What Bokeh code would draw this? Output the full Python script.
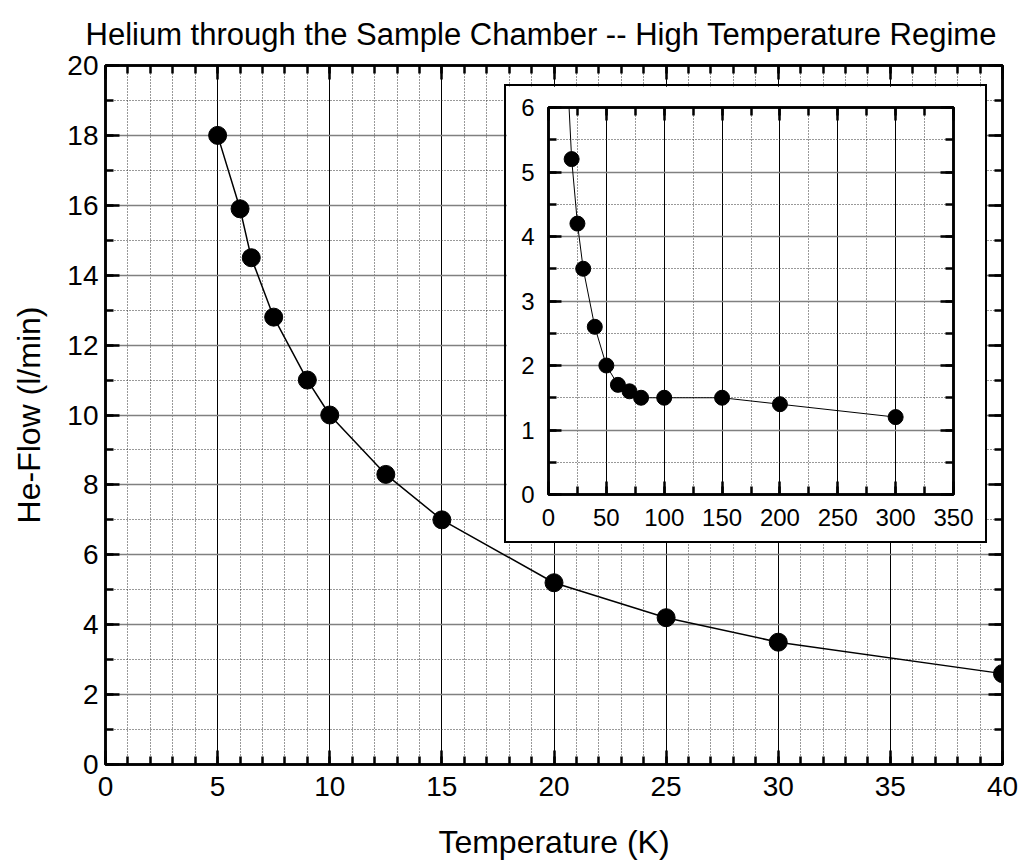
from bokeh.plotting import figure
from bokeh.layouts import column
from bokeh.models import SingleIntervalTicker, LinearAxis, Range1d
from bokeh.embed import file_html
from bokeh.resources import INLINE

# He flow through the sample chamber vs. temperature
temp_low = [5, 6, 6.5, 7.5, 9, 10, 12.5, 15, 20, 25, 30, 40]
flow_low = [18.0, 15.9, 14.5, 12.8, 11.0, 10.0, 8.3, 7.0, 5.2, 4.2, 3.5, 2.6]

temp_high = [50, 60, 70, 80, 100, 150, 200, 300]
flow_high = [2.0, 1.7, 1.6, 1.5, 1.5, 1.5, 1.4, 1.2]

temp_all = temp_low + temp_high
flow_all = flow_low + flow_high

FONT = "Liberation Sans"


def tick_style(ax, major_len, minor_len):
    ax.axis_line_width = 2.5
    ax.major_tick_line_width = 2.5
    ax.minor_tick_line_width = 2.5
    ax.major_tick_in = major_len
    ax.major_tick_out = 0
    ax.minor_tick_in = minor_len
    ax.minor_tick_out = 0


def style_axes(p, xtick, ytick, label_size, major_len, minor_len, standoff_x, standoff_y):
    xax, yax = p.xaxis[0], p.yaxis[0]
    for ax, tk, so in ((xax, xtick, standoff_x), (yax, ytick, standoff_y)):
        ax.ticker = tk
        tick_style(ax, major_len, minor_len)
        ax.major_label_text_font = FONT
        ax.major_label_text_font_size = label_size
        ax.major_label_text_color = "black"
        ax.major_label_standoff = so
        ax.axis_label_text_font = FONT
        ax.axis_label_text_font_style = "normal"
        ax.axis_label_text_color = "black"
    # mirrored axes on top and right carry ticks only
    for loc, tk in (("above", xtick), ("right", ytick)):
        ax = LinearAxis(ticker=tk)
        tick_style(ax, major_len, minor_len)
        ax.major_label_text_color = None
        ax.major_label_text_font_size = "1px"
        ax.major_label_standoff = 0
        p.add_layout(ax, loc)

    p.xgrid.ticker = xtick
    p.ygrid.ticker = ytick
    p.xgrid.grid_line_color = "black"
    p.xgrid.grid_line_width = 1
    p.xgrid.minor_grid_line_color = "#333333"
    p.xgrid.minor_grid_line_dash = "1 2"
    p.xgrid.minor_grid_line_width = 1
    p.ygrid.grid_line_color = "#808080"
    p.ygrid.grid_line_width = 1.5
    p.ygrid.minor_grid_line_color = "#333333"
    p.ygrid.minor_grid_line_dash = "1 2"
    p.ygrid.minor_grid_line_width = 1
    p.outline_line_color = "black"
    p.outline_line_width = 2.5
    return xax, yax


# ---- main chart ----
main = figure(width=1019, height=862, output_backend="svg", toolbar_location=None,
              x_range=Range1d(0, 40), y_range=Range1d(0, 20),
              min_border_left=105, min_border_right=17, min_border_top=65, min_border_bottom=97,
              background_fill_color="white", border_fill_color="white")
main.title.text = "Helium through the Sample Chamber -- High Temperature Regime"
main.title.text_font = FONT
main.title.text_font_size = "31px"
main.title.text_font_style = "normal"
main.title.text_color = "black"
main.title.align = "left"
main.title.offset = -20
main.title.standoff = 28

mx, my = style_axes(main,
                    SingleIntervalTicker(interval=5, num_minor_ticks=5),
                    SingleIntervalTicker(interval=2, num_minor_ticks=2),
                    "28px", 14, 8, 12, 7)
mx.axis_label = "Temperature (K)"
my.axis_label = "He-Flow (l/min)"
mx.axis_label_text_font_size = "32px"
my.axis_label_text_font_size = "32px"
mx.axis_label_standoff = 25
my.axis_label_standoff = 17

main.line(temp_low, flow_low, line_color="black", line_width=1.5)
main.scatter(temp_low, flow_low, size=18, fill_color="black", line_color="black")

# ---- inset: full temperature range ----
inset = figure(width=479, height=455, output_backend="svg", toolbar_location=None,
               x_range=Range1d(0, 350), y_range=Range1d(0, 6),
               min_border_left=42, min_border_right=32, min_border_top=21, min_border_bottom=47,
               background_fill_color="white", border_fill_color="white")
style_axes(inset,
           SingleIntervalTicker(interval=50, num_minor_ticks=2),
           SingleIntervalTicker(interval=1, num_minor_ticks=2),
           "24px", 13, 8, 14, 14)
inset.line(temp_all, flow_all, line_color="black", line_width=1)
inset.scatter(temp_all, flow_all, size=15, fill_color="black", line_color="black")

# the inset sits in its own container, floated over the main chart
inset_box = column(inset, styles={"position": "absolute", "left": "506px", "top": "86px",
                                  "outline": "2px solid black", "z-index": "10"})

layout = column(main, inset_box)
open("out.html", "w").write(file_html(layout, INLINE))
